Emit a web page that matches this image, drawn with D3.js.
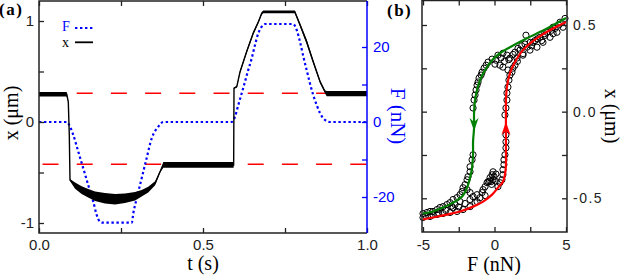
<!DOCTYPE html>
<html><head><meta charset="utf-8">
<script src="https://cdn.jsdelivr.net/npm/d3@7"></script>
<style>
html,body{margin:0;padding:0;background:#fff;}
svg{display:block;}
.tick text{font-family:"Liberation Sans",Arial,sans-serif;}
</style></head>
<body><svg id="c" width="623" height="275"></svg>
<script>
// ---------- Panel (a) data ----------
const tX = [0, 0.0845, 0.0893, 0.0924, 0.0945, 0.11, 0.13, 0.15, 0.171, 0.201, 0.232, 0.262, 0.293, 0.313, 0.333, 0.354, 0.369, 0.379, 0.5935, 0.5945, 0.603, 0.613, 0.633, 0.653, 0.669, 0.679, 0.684, 0.78, 0.796, 0.816, 0.836, 0.857, 0.872, 0.877, 1.0];
const xSig = [0.275, 0.275, 0.20, -0.13, -0.574, -0.63, -0.675, -0.705, -0.735, -0.755, -0.765, -0.755, -0.735, -0.705, -0.67, -0.607, -0.492, -0.425, -0.425, 0.334, 0.35, 0.498, 0.696, 0.878, 0.993, 1.076, 1.09, 1.09, 0.96, 0.795, 0.597, 0.399, 0.30, 0.282, 0.282];
const xNoise = [0.022, 0.022, 0.004, 0.004, 0.01, 0.032, 0.038, 0.042, 0.048, 0.052, 0.052, 0.048, 0.042, 0.032, 0.028, 0.02, 0.01, 0.028, 0.028, 0.006, 0.01, 0.012, 0.015, 0.015, 0.012, 0.013, 0.013, 0.013, 0.018, 0.022, 0.018, 0.015, 0.015, 0.026, 0.026];
const tF = [0, 0.0845, 0.0945, 0.1046, 0.1198, 0.135, 0.150, 0.1655, 0.176, 0.186, 0.195, 0.283, 0.2875, 0.298, 0.313, 0.328, 0.3436, 0.3637, 0.379, 0.5875, 0.5976, 0.6076, 0.618, 0.628, 0.638, 0.6485, 0.6585, 0.6686, 0.679, 0.689, 0.775, 0.7857, 0.7957, 0.806, 0.816, 0.826, 0.836, 0.8466, 0.857, 0.872, 0.887, 1.0];
const fSig = [0, 0, -1.25, -3.47, -7.92, -12.35, -16.8, -21.25, -24.8, -26.6, -26.85, -26.85, -24.35, -20.35, -15.0, -9.7, -4.35, -1.25, 0, 0, 1.41, 4.53, 7.65, 10.75, 13.87, 16.99, 20.53, 23.65, 25.41, 26.13, 26.13, 24.53, 21.41, 17.41, 13.87, 10.32, 7.2, 4.53, 2.32, 0.53, 0, 0];
const thresholds = [0.284, -0.419];
const tTicks = [0, 0.25, 0.5, 0.75, 1];
const tLabels = ["0.0", "", "0.5", "", "1.0"];
const xTicksA = [-1, -0.5, 0, 0.5, 1];
const xLabelsA = ["-1", "", "0", "", "1"];
const fTicks = [-20, -10, 0, 10, 20];
const fLabels = ["-20", "", "0", "", "20"];

// ---------- Panel (b) data ----------
const greenF = [5.0, 3.67, 2.27, 1.08, 0.38, -0.17, -0.66, -1.01, -1.22, -1.36, -1.43, -1.43, -1.50, -1.50, -1.57, -1.71, -1.92, -2.27, -2.90, -3.60, -4.30, -5.0];
const greenX = [0.54, 0.48, 0.424, 0.372, 0.337, 0.297, 0.24, 0.182, 0.125, 0.067, -0.007, -0.094, -0.174, -0.249, -0.323, -0.381, -0.439, -0.49, -0.525, -0.553, -0.576, -0.588];
const redF = [-5.0, -4.30, -3.32, -2.41, -1.50, -0.80, -0.17, 0.24, 0.59, 0.73, 0.80, 0.80, 0.80, 0.80, 0.87, 1.08, 1.43, 1.99, 2.97, 4.09, 5.0];
const redX = [-0.622, -0.611, -0.594, -0.576, -0.548, -0.519, -0.479, -0.439, -0.404, -0.364, -0.306, -0.209, -0.019, 0.067, 0.142, 0.222, 0.286, 0.355, 0.424, 0.48, 0.516];
const arrowF = [-1.43, 0.80];
const arrowX = [-0.111, -0.059];
const arrowDir = ["down", "up"];
const ptsF = [-1.50,-1.43,-1.36,-1.29,-1.22,-1.15,-1.08,-0.94,-0.87,-0.73,-0.59,-0.45,-0.17,0.10,0.38,0.59,0.24,0.59,0.03,
  0.73,0.80,0.87,0.87,0.94,1.01,1.08,0.94,1.22,1.29,1.43,
  0.87,1.08,1.57,1.78,1.99,2.27,2.48,2.69,2.97,3.18,3.39,3.67,3.88,4.09,4.37,4.58,4.79,4.93,2.20,1.43,2.83,3.53,4.23,2.13,1.64,
  1.3,1.9,2.5,3.0,3.5,4.0,4.5,2.6,3.3,4.1,1.0,0.7,0.45,1.6,2.0,
  -1.50,-1.57,-1.71,-1.71,-1.85,-1.92,-2.06,-2.20,-2.27,-1.92,-1.71,-2.41,-2.62,-2.90,-3.11,-3.32,-3.60,-3.81,-4.02,-4.30,-4.51,-4.72,-5.0,
  -5.0,-4.51,-4.02,-3.60,-3.11,-2.62,-2.20,-1.71,-1.22,-1.01,-0.87,-0.80,-0.66,-0.52,-0.45,-0.31,-0.17,-0.10,-0.03,0.24,0.38,0.52,0.59,0.59,0.66,0.66,0.73,0.80,0.80,0.80,
  -2.41,-1.71,-1.50,-1.22,-2.76,-2.06,-1.36,-0.66,-0.24,-0.10,
  -4.8,-4.3,-3.9,-3.4,-2.9,-3.0,-2.5,-0.2,-0.35,0.05,0.1];
const ptsX = [0.021,0.067,0.096,0.125,0.153,0.171,0.194,0.211,0.228,0.251,0.268,0.286,0.303,0.297,0.268,0.257,0.326,0.337,0.274,
  -0.019,0.021,0.067,0.107,0.142,0.182,0.211,0.240,0.228,0.251,0.268,
  0.326,0.309,0.309,0.355,0.326,0.372,0.355,0.40,0.372,0.429,0.40,0.458,0.429,0.487,0.458,0.516,0.487,0.538,0.441,0.343,0.41,0.44,0.48,0.39,0.365,
  0.33,0.38,0.40,0.42,0.45,0.47,0.50,0.38,0.41,0.45,0.30,0.29,0.31,0.29,0.335,
  -0.249,-0.278,-0.318,-0.347,-0.375,-0.393,-0.421,-0.439,-0.461,-0.450,-0.467,-0.479,-0.496,-0.507,-0.525,-0.536,-0.548,-0.553,-0.565,-0.576,-0.576,-0.582,-0.588,
  -0.611,-0.605,-0.594,-0.588,-0.582,-0.576,-0.565,-0.548,-0.519,-0.496,-0.467,-0.450,-0.433,-0.410,-0.404,-0.381,-0.364,-0.347,-0.375,-0.433,-0.410,-0.393,-0.364,-0.335,-0.306,-0.278,-0.249,-0.209,-0.174,-0.134,
  -0.519,-0.507,-0.490,-0.479,-0.536,-0.53,-0.525,-0.484,-0.404,-0.393,
  -0.60,-0.595,-0.585,-0.57,-0.555,-0.545,-0.55,-0.42,-0.40,-0.40,-0.36];
const fTicksB = [-5, -2.5, 0, 2.5, 5];
const fLabelsB = ["-5", "", "0", "", "5"];
const xTicksB = [-0.5, -0.25, 0, 0.25, 0.5];
const xLabelsB = ["-0.5", "", "0.0", "", "0.5"];

// ---------- drawing ----------
const svg = d3.select("#c");
const BLUE = "#0000ff", AX = "#222", GREEN = "#008000", RED = "#ff0000";
const lab = (vals, labs) => d => labs[vals.indexOf(d)];

// Panel (a) scales
const tS = d3.scaleLinear().domain([0, 1]).range([39, 367]);
const xS = d3.scaleLinear().domain([-1, 1]).range([223, 21]);
const fS = d3.scaleLinear().domain([-20, 20]).range([197, 47]);
const A = {l: 39, r: 367, t: 1, b: 233};

function styleAxis(g, color, fs) {
  g.select(".domain").remove();
  g.selectAll(".tick line").attr("stroke", color).attr("stroke-width", 1.3);
  g.selectAll(".tick text").attr("fill", color).style("font-size", fs + "px");
}

// red thresholds
svg.append("g").selectAll("line").data(thresholds).join("line")
  .attr("x1", tS(0)).attr("x2", tS(1)).attr("y1", d => xS(d)).attr("y2", d => xS(d))
  .attr("stroke", RED).attr("stroke-width", 1.5)
  .attr("stroke-dasharray", "16,18.2").attr("stroke-dashoffset", 30.7);

// F dotted
const fData = tF.map((t, i) => [t, fSig[i]]);
svg.append("path").datum(fData)
  .attr("d", d3.line().x(d => tS(d[0])).y(d => fS(d[1])).curve(d3.curveMonotoneX))
  .attr("fill", "none").attr("stroke", BLUE).attr("stroke-width", 2.2)
  .attr("stroke-dasharray", "2.4,2.6");

// x signal (noise envelope + line)
const xData = tX.map((t, i) => [t, xSig[i], xNoise[i]]);
svg.append("path").datum(xData)
  .attr("d", d3.area().x(d => tS(d[0])).y0(d => xS(d[1] - d[2])).y1(d => xS(d[1] + d[2])))
  .attr("fill", "#000");
svg.append("path").datum(xData)
  .attr("d", d3.line().x(d => tS(d[0])).y(d => xS(d[1])))
  .attr("fill", "none").attr("stroke", "#000").attr("stroke-width", 1.4);

// axes panel (a)
const gb = svg.append("g").attr("transform", `translate(0,${A.b})`)
  .call(d3.axisBottom(tS).tickValues(tTicks).tickFormat(lab(tTicks, tLabels)).tickSize(-5).tickPadding(6));
styleAxis(gb, AX, 15);
const gt = svg.append("g").attr("transform", `translate(0,${A.t})`)
  .call(d3.axisTop(tS).tickValues(tTicks).tickFormat("").tickSize(-5));
styleAxis(gt, AX, 15);
const gl = svg.append("g").attr("transform", `translate(${A.l},0)`)
  .call(d3.axisLeft(xS).tickValues(xTicksA).tickFormat(lab(xTicksA, xLabelsA)).tickSize(-5).tickPadding(5));
styleAxis(gl, AX, 15);
const gr = svg.append("g").attr("transform", `translate(${A.r},0)`)
  .call(d3.axisRight(fS).tickValues(fTicks).tickFormat(lab(fTicks, fLabels)).tickSize(-5).tickPadding(6));
styleAxis(gr, BLUE, 15);

// frame (a)
svg.append("path").attr("d", `M${A.r},${A.t}H${A.l}V${A.b}H${A.r}`)
  .attr("fill", "none").attr("stroke", AX).attr("stroke-width", 1.5);
svg.append("line").attr("x1", A.r).attr("x2", A.r).attr("y1", A.t).attr("y2", A.b)
  .attr("stroke", BLUE).attr("stroke-width", 1.5);

// legend (a)
const serif = '"Liberation Serif","Times New Roman",serif';
svg.append("text").attr("x", 62).attr("y", 31).text("F").attr("fill", BLUE)
  .style("font-family", serif).style("font-size", "14px");
svg.append("line").attr("x1", 75).attr("x2", 93).attr("y1", 28).attr("y2", 28)
  .attr("stroke", BLUE).attr("stroke-width", 2.2).attr("stroke-dasharray", "2.4,2.6");
svg.append("text").attr("x", 62).attr("y", 47).text("x").attr("fill", "#000")
  .style("font-family", serif).style("font-size", "14px");
svg.append("line").attr("x1", 75).attr("x2", 93).attr("y1", 42.3).attr("y2", 42.3)
  .attr("stroke", "#000").attr("stroke-width", 1.8);

// titles (a)
svg.append("text").attr("transform", "translate(18,113) rotate(-90)").attr("text-anchor", "middle")
  .style("font-family", serif).style("font-size", "20px").text("x (μm)");
svg.append("text").attr("x", 203).attr("y", 270).attr("text-anchor", "middle")
  .style("font-family", serif).style("font-size", "20px").text("t (s)");
svg.append("text").attr("transform", "translate(391,116) rotate(90)").attr("text-anchor", "middle")
  .attr("fill", BLUE).style("font-family", serif).style("font-size", "21px").text("F (nN)");
svg.append("text").attr("x", -1).attr("y", 15).style("font-family", serif).style("font-weight", "bold")
  .style("font-size", "17px").style("letter-spacing", "1.5px").text("(a)");

// ---------- Panel (b) ----------
const B = {l: 422, r: 567, t: 0.5, b: 232};
const fbS = d3.scaleLinear().domain([-5, 5]).range([423, 566]);
const xbS = d3.scaleLinear().domain([-0.5, 0.5]).range([198.3, 25]);

svg.append("g").selectAll("circle").data(ptsF.map((f, i) => [f, ptsX[i]])).join("circle")
  .attr("cx", d => fbS(d[0])).attr("cy", d => xbS(d[1])).attr("r", 3.1)
  .attr("fill", "none").attr("stroke", "#000").attr("stroke-width", 1);

const curveLine = d3.line().x(d => fbS(d[0])).y(d => xbS(d[1])).curve(d3.curveCatmullRom.alpha(0.5));
svg.append("path").datum(greenF.map((f, i) => [f, greenX[i]])).attr("d", curveLine)
  .attr("fill", "none").attr("stroke", GREEN).attr("stroke-width", 2.2);
svg.append("path").datum(redF.map((f, i) => [f, redX[i]])).attr("d", curveLine)
  .attr("fill", "none").attr("stroke", RED).attr("stroke-width", 2.2);

svg.append("g").selectAll("path").data(arrowF.map((f, i) => [f, arrowX[i], arrowDir[i]])).join("path")
  .attr("transform", d => `translate(${fbS(d[0])},${xbS(d[1])}) rotate(${d[2] === "down" ? 0 : 180})`)
  .attr("d", "M0,0L-4.5,-13L0,-9L4.5,-13Z")
  .attr("fill", (d, i) => i === 0 ? GREEN : RED);

const bb = svg.append("g").attr("transform", `translate(0,${B.b})`)
  .call(d3.axisBottom(fbS).tickValues(fTicksB).tickFormat(lab(fTicksB, fLabelsB)).tickSize(-5).tickPadding(7));
styleAxis(bb, AX, 15);
const bt = svg.append("g").attr("transform", `translate(0,${B.t})`)
  .call(d3.axisTop(fbS).tickValues(fTicksB).tickFormat("").tickSize(-5));
styleAxis(bt, AX, 15);
const bl = svg.append("g").attr("transform", `translate(${B.l},0)`)
  .call(d3.axisLeft(xbS).tickValues(xTicksB).tickFormat("").tickSize(-5));
styleAxis(bl, AX, 15);
const br = svg.append("g").attr("transform", `translate(${B.r},0)`)
  .call(d3.axisRight(xbS).tickValues(xTicksB).tickFormat(lab(xTicksB, xLabelsB)).tickSize(-5).tickPadding(6));
styleAxis(br, AX, 14);
br.selectAll(".tick text").style("letter-spacing", "1.5px");

svg.append("rect").attr("x", B.l).attr("y", B.t).attr("width", B.r - B.l).attr("height", B.b - B.t)
  .attr("fill", "none").attr("stroke", AX).attr("stroke-width", 1.5);

svg.append("text").attr("x", 494).attr("y", 271).attr("text-anchor", "middle")
  .style("font-family", serif).style("font-size", "20px").text("F (nN)");
svg.append("text").attr("transform", "translate(605,116) rotate(90)").attr("text-anchor", "middle")
  .style("font-family", serif).style("font-size", "20px").text("x (μm)");
svg.append("text").attr("x", 387).attr("y", 16).style("font-family", serif).style("font-weight", "bold")
  .style("font-size", "17px").style("letter-spacing", "1.5px").text("(b)");
</script></body></html>
